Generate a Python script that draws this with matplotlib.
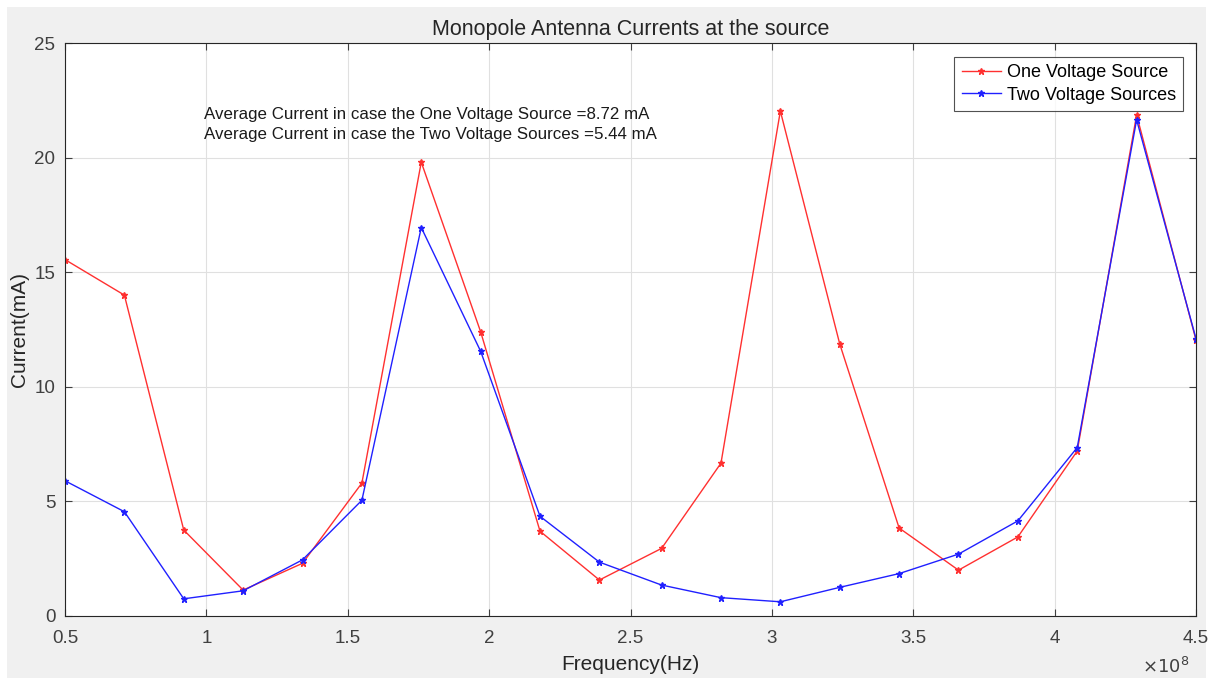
import matplotlib
matplotlib.use("Agg")
import matplotlib.pyplot as plt
from matplotlib.ticker import FuncFormatter, MultipleLocator
from matplotlib.patches import Rectangle

plt.rcParams['font.family'] = ['Liberation Sans', 'DejaVu Sans']

freq_hz = [0.50e8, 0.71e8, 0.92e8, 1.13e8, 1.34e8, 1.55e8, 1.76e8, 1.97e8, 2.18e8, 2.39e8,
           2.61e8, 2.82e8, 3.03e8, 3.24e8, 3.45e8, 3.66e8, 3.87e8, 4.08e8, 4.29e8, 4.50e8]
one_source = [15.55, 14.0, 3.75, 1.13, 2.3, 5.8, 19.8, 12.4, 3.7, 1.57,
              2.95, 6.67, 22.03, 11.87, 3.84, 2.0, 3.45, 7.2, 21.86, 12.04]
two_sources = [5.9, 4.55, 0.75, 1.1, 2.45, 5.05, 16.95, 11.55, 4.35, 2.35,
               1.35, 0.8, 0.62, 1.25, 1.85, 2.7, 4.15, 7.35, 21.65, 12.1]
series_labels = ["One Voltage Source", "Two Voltage Sources"]
title = "Monopole Antenna Currents at the source"
annotation = ("Average Current in case the One Voltage Source =8.72 mA\n"
              "Average Current in case the Two Voltage Sources =5.44 mA")

W, H = 1213, 685
fig = plt.figure(figsize=(W / 100, H / 100), dpi=100, facecolor='white')
fig.patches.append(Rectangle((7 / W, 7 / H), (W - 14) / W, (H - 14) / H,
                             transform=fig.transFigure, facecolor='#f0f0f0',
                             edgecolor='none', zorder=-10))

ax = fig.add_axes([65 / W, (H - 616) / H, (1196 - 65) / W, (616 - 43) / H])
ax.set_facecolor('white')

ax.plot(freq_hz, one_source, color='#ff3030', lw=1.0, marker='*', ms=5,
        label=series_labels[0])
ax.plot(freq_hz, two_sources, color='#2020ff', lw=1.0, marker='*', ms=5,
        label=series_labels[1])

ax.set_xlim(0.5e8, 4.5e8)
ax.set_ylim(0, 25)
ax.xaxis.set_major_locator(MultipleLocator(0.5e8))
ax.yaxis.set_major_locator(MultipleLocator(5))
ax.xaxis.set_major_formatter(FuncFormatter(lambda v, p: f"{v / 1e8:g}"))

ax.grid(True, color='#e0e0e0', lw=0.8)
ax.set_axisbelow(True)
ax.tick_params(direction='in', top=True, right=True, length=5, width=0.8,
               colors='#404040', labelsize=13.5)
ax.tick_params(axis='x', pad=10)
ax.tick_params(axis='y', pad=7)
for sp in ax.spines.values():
    sp.set_color('#262626')
    sp.set_linewidth(0.8)

ax.set_title(title, fontsize=15.5, color='#262626', pad=6)
ax.set_xlabel("Frequency(Hz)", fontsize=15, color='#262626', labelpad=6)
ax.set_ylabel("Current(mA)", fontsize=15, color='#262626', labelpad=4)

ax.text(0.99e8, 21.45, annotation, fontsize=12.2, color='#1a1a1a',
        va='center', ha='left', linespacing=1.45)

fig.text(1166 / W, (H - 667) / H, r"$\times10^{8}$", fontsize=13,
         color='#404040', ha='center', va='center')

leg = ax.legend(loc='upper right', bbox_to_anchor=(1 - 13 / 1131, 1 - 14 / 573),
                fontsize=13, frameon=True, fancybox=False, edgecolor='#262626',
                handlelength=2.2, borderpad=0.4, labelspacing=0.3,
                handletextpad=0.3, borderaxespad=0)
leg.get_frame().set_linewidth(0.8)

fig.savefig("out.png", dpi=100, facecolor=fig.get_facecolor())
